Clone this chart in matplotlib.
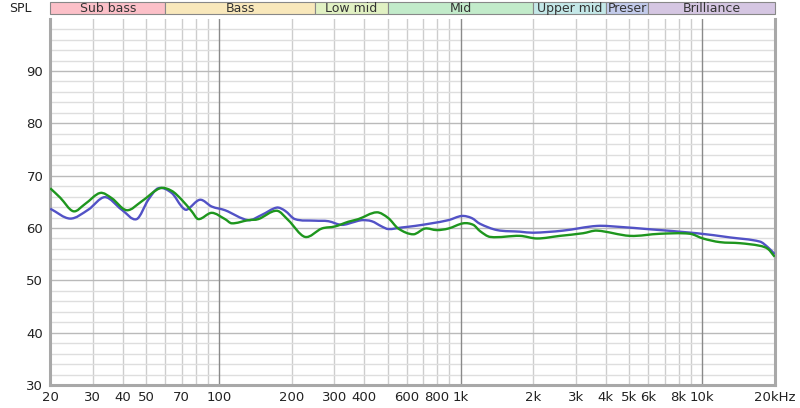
import matplotlib
matplotlib.use("Agg")
import numpy as np
import matplotlib.pyplot as plt
from matplotlib.patches import Rectangle, PathPatch
from matplotlib.path import Path

# ---- data ----
blue_freq = [20, 24.2, 28.75, 33.7, 39.55, 45.6, 50.96, 56.05, 63.7, 70.06, 73.5, 83.4,
             93.3, 105.9, 132.2, 150.2, 173.4, 187.6, 206.3, 249.9, 283.6, 322.2,
             365.8, 390, 428.9, 471.7, 502.4, 570.8, 648.2, 760, 890.4, 1012, 1113,
             1205, 1419, 1763, 1996, 2657, 3673, 4600, 5918, 9530, 13060, 17380,
             18760, 20000]
blue_db = [63.7, 61.8, 63.5, 65.9, 63.5, 61.7, 65.4, 67.6, 66.7, 64.1, 63.5, 65.4,
           64.1, 63.4, 61.5, 62.5, 63.9, 63.3, 61.7, 61.4, 61.3, 60.6,
           61.2, 61.5, 61.3, 60.3, 59.8, 60.1, 60.4, 60.9, 61.5, 62.3, 61.9,
           60.8, 59.6, 59.3, 59.1, 59.5, 60.4, 60.2, 59.8, 59.0, 58.2, 57.4,
           56.3, 55.0]

green_freq = [20, 22, 24.93, 27.9, 32.2, 35.96, 41.48, 47.85, 56.97, 63.7, 70.06, 77.07,
              82.1, 93.3, 105.9, 112.9, 132.2, 145.5, 173.4, 193.6, 227.1, 266.3,
              302.3, 343.1, 377.5, 449.8, 502.4, 552.6, 637.8, 712.9, 797, 890.4,
              1027, 1130, 1205, 1327, 1763, 2075, 2583, 3215, 3673, 5035, 6700, 8915,
              10090, 11860, 14360, 17380, 18760, 20000]
green_db = [67.6, 65.8, 63.2, 64.6, 66.7, 65.7, 63.4, 65.1, 67.6, 67.1, 65.4, 63.2,
            61.7, 62.9, 61.7, 60.9, 61.5, 61.7, 63.3, 61.5, 58.3, 59.9,
            60.3, 61.2, 61.7, 63.0, 61.9, 59.9, 58.8, 59.9, 59.6, 59.9,
            60.9, 60.6, 59.4, 58.3, 58.5, 58.0, 58.5, 59.0, 59.5, 58.5, 58.9, 58.9,
            58.0, 57.3, 57.1, 56.6, 56.0, 54.5]

band_names = ["Sub bass", "Bass", "Low mid", "Mid", "Upper mid", "Preser", "Brilliance"]
band_edges = [20, 60, 250, 500, 2000, 4000, 6000, 20000]
band_colors = ["#fcc0c8", "#f9e8bb", "#e1f1c3", "#c2ebca", "#c4e8e8", "#c3cbeb", "#d5c6e2"]

xtick_vals = [20, 30, 40, 50, 70, 100, 200, 300, 400, 600, 800, 1000, 2000, 3000,
              4000, 5000, 6000, 8000, 10000, 20000]
xtick_labels = ["20", "30", "40", "50", "70", "100", "200", "300", "400", "600", "800",
                "1k", "2k", "3k", "4k", "5k", "6k", "8k", "10k", "20kHz"]
ytick_vals = [30, 40, 50, 60, 70, 80, 90]


def smooth_curve_path(freq, db):
    """Cubic Hermite curve through the points, built in log-frequency space."""
    u = np.log10(np.asarray(freq, float))
    y = np.asarray(db, float)
    n = len(u)
    m = np.zeros(n)
    for i in range(n):
        if i == 0:
            m[i] = (y[1] - y[0]) / (u[1] - u[0])
        elif i == n - 1:
            m[i] = (y[-1] - y[-2]) / (u[-1] - u[-2])
        else:
            m[i] = (y[i + 1] - y[i - 1]) / (u[i + 1] - u[i - 1])
    verts = [(10 ** u[0], y[0])]
    codes = [Path.MOVETO]
    for i in range(n - 1):
        du = u[i + 1] - u[i]
        c1 = (10 ** (u[i] + du / 3), y[i] + m[i] * du / 3)
        c2 = (10 ** (u[i + 1] - du / 3), y[i + 1] - m[i + 1] * du / 3)
        verts += [c1, c2, (10 ** u[i + 1], y[i + 1])]
        codes += [Path.CURVE4] * 3
    return Path(verts, codes)


# ---- figure ----
fig = plt.figure(figsize=(8, 4.08), dpi=100)
W, H = 800, 408
x0, x1 = 50.2, 774.7
y_bot, y_top = 385, 18.7
ax = fig.add_axes([x0 / W, 1 - y_bot / H, (x1 - x0) / W, (y_bot - y_top) / H])
ax.set_xscale("log")
ax.set_xlim(20, 20000)
ax.set_ylim(30, 100)

# grid
grid_x = []
for dec in [10, 100, 1000, 10000]:
    for mlt in range(1, 10):
        v = mlt * dec
        if 20 <= v <= 20000:
            grid_x.append(v)
for v in grid_x:
    if v in (100, 1000, 10000):
        ax.axvline(v, color="#8a8a8a", lw=1.0, zorder=1)
    else:
        ax.axvline(v, color="#cdcdcd", lw=1.0, zorder=0)
for v in range(32, 100, 2):
    c = "#bababa" if v % 10 == 0 else "#dedede"
    ax.axhline(v, color=c, lw=1.0, zorder=0)

# invisible reference lines keep data limits honest, smooth paths draw the curves
ax.plot(blue_freq, blue_db, alpha=0)
ax.plot(green_freq, green_db, alpha=0)
ax.add_patch(PathPatch(smooth_curve_path(blue_freq, blue_db), fill=False,
                       edgecolor="#5252c6", lw=1.7, zorder=3, joinstyle="round"))
ax.add_patch(PathPatch(smooth_curve_path(green_freq, green_db), fill=False,
                       edgecolor="#1e961e", lw=1.7, zorder=4, joinstyle="round"))
ax.set_xlim(20, 20000)
ax.set_ylim(30, 100)

ax.set_xticks(xtick_vals)
ax.set_xticklabels(xtick_labels)
ax.xaxis.set_minor_locator(matplotlib.ticker.NullLocator())
ax.set_yticks(ytick_vals)
ax.tick_params(axis="both", length=0, labelsize=9.5, colors="#222222")
ax.tick_params(axis="x", pad=4)
ax.tick_params(axis="y", pad=5)

for s in ["left", "bottom", "right"]:
    ax.spines[s].set_color("#a8a8a8")
    ax.spines[s].set_linewidth(2.2)
ax.spines["top"].set_visible(False)

# ---- band strip ----
bax = fig.add_axes([x0 / W, 1 - 14 / H, (x1 - x0) / W, 12 / H])
bax.set_xscale("log")
bax.set_xlim(20, 20000)
bax.set_ylim(0, 1)
bax.axis("off")
for name, lo, hi, col in zip(band_names, band_edges[:-1], band_edges[1:], band_colors):
    bax.add_patch(Rectangle((lo, 0), hi - lo, 1, facecolor=col, edgecolor="#888888",
                            lw=0.8, clip_on=False))
    cx = (lo * hi) ** 0.5
    bax.text(cx, 0.45, name, ha="center", va="center", fontsize=9, color="#333333")
fig.text(20 / W, 1 - 8 / H, "SPL", ha="center", va="center", fontsize=9, color="#222222")

fig.savefig("out.png", dpi=100)
